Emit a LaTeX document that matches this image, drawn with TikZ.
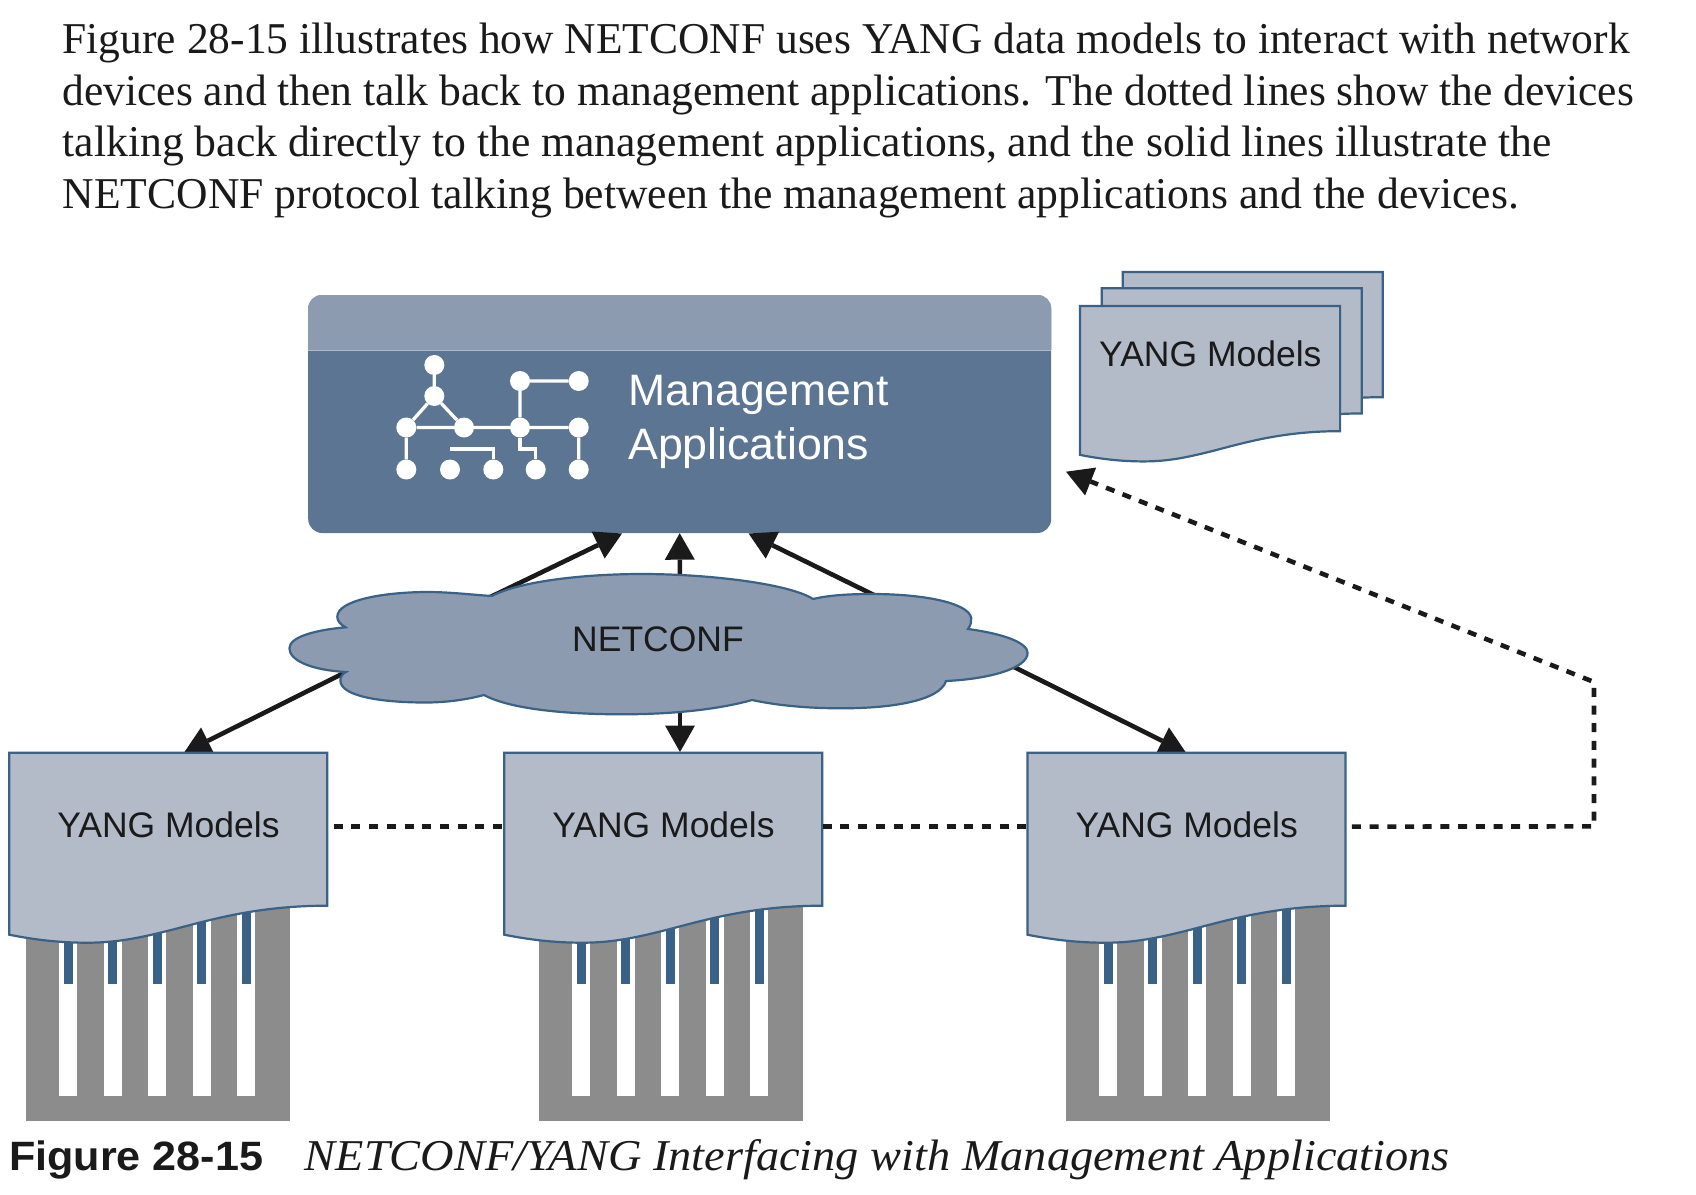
\documentclass[tikz,border=0pt]{standalone}
\usepackage{fontspec}
\setmainfont{Liberation Serif}
\newfontfamily\lsans{Liberation Sans}
\usetikzlibrary{arrows.meta}
\definecolor{ink}{HTML}{1A1A1A}
\definecolor{edgeblue}{HTML}{3A6287}
\definecolor{docfill}{HTML}{B3BBC9}
\definecolor{bandfill}{HTML}{8D9BB1}
\definecolor{darkfill}{HTML}{5C7592}
\definecolor{combgray}{HTML}{8C8C8C}
\tikzset{
  bigtip/.tip={Triangle[length=26.5pt,width=30pt,line width=0pt]},
  link/.style={draw=ink,line width=4.6pt,-{bigtip}},
  dashlink/.style={draw=ink,line width=4.6pt,dash pattern=on 9pt off 8.7pt},
  para/.style={anchor=base west,inner sep=0pt,text=ink,font=\fontsize{44}{44}\selectfont},
  sanslabel/.style={inner sep=0pt,text=ink,font=\lsans\fontsize{35.5}{40}\selectfont},
  docshape/.style={draw=edgeblue,fill=docfill,line width=2.2pt,line join=miter},
  docnode/.style={sanslabel,anchor=north west,minimum width=318pt,minimum height=147.4pt,text height=25.7pt,text depth=3.7pt},
  icondot/.style={circle,fill=white,inner sep=0pt,minimum size=20pt},
  iconline/.style={draw=white,line width=3.3pt},
  mgmtlabel/.style={anchor=base west,inner sep=0pt,text=white,font=\lsans\fontsize{44}{44}\selectfont},
}
\newcommand\waveshape[1]{%
  \path[docshape,#1] (0,0) -- (318,0) -- (318,153)
    .. controls (250,153) and (205,166) .. (163,177)
    .. controls (135,184) and (110,190) .. (78,190)
    .. controls (50,190) and (25,187) .. (0,182) -- cycle;}
\newcommand\combshape[1]{%
  \begin{scope}[shift={(#1,0)}]
    \fill[combgray] (0,900) rectangle (263.5,1120.8);
    \foreach \q in {33,77.6,122,166.7,211}{
      \fill[white] (\q,900) rectangle ++(18,196);
      \fill[edgeblue] (\q+4.5,900) rectangle ++(9,83.6);
    }
  \end{scope}}
\begin{document}
\begin{tikzpicture}[x=1pt,y=-1pt]
\useasboundingbox (0,0) rectangle (1696,1194);
\fill[white] (0,0) rectangle (1696,1194);

% intro text
\node[para] (t1) at (62.5,53.5) {\resizebox{1567pt}{\height}{Figure 28-15 illustrates how NETCONF uses YANG data models to interact with network}};
\node[para] (t2) at (62.5,105.1) {\resizebox{1571pt}{\height}{devices and then talk back to management applications. The dotted lines show the devices}};
\node[para] (t3) at (62.5,156.8) {\resizebox{1489pt}{\height}{talking back directly to the management applications, and the solid lines illustrate the}};
\node[para] (t4) at (62.5,208) {\resizebox{1456pt}{\height}{NETCONF protocol talking between the management applications and the devices.}};

% combs
\combshape{26}
\combshape{539}
\combshape{1066}

% management box
\node[fill=darkfill,rounded corners=14pt,minimum width=743pt,minimum height=238pt,inner sep=0pt] (mgmt) at (679.7,414) {};
\fill[bandfill] (308,350) -- (308,309) .. controls (308,301) and (314,295) .. (322,295) -- (1037.5,295) .. controls (1045.5,295) and (1051.3,301) .. (1051.3,309) -- (1051.3,350) -- cycle;
\draw[color=bandfill!70!white,line width=.8pt] (308,350) -- (1051.3,350);

% icon
\node[icondot] (ia) at (434.3,365) {};
\node[icondot] (ib) at (434.3,396) {};
\node[icondot] (ic) at (406.3,427.5) {};
\node[icondot] (id) at (464,427.5) {};
\node[icondot] (ie) at (520,427.5) {};
\node[icondot] (if) at (578.7,427.5) {};
\node[icondot] (ig) at (520,381) {};
\node[icondot] (ih) at (578.7,381) {};
\node[icondot] (ij) at (406.3,469.5) {};
\node[icondot] (ik) at (450,469.5) {};
\node[icondot] (il) at (493.3,469.5) {};
\node[icondot] (im) at (535.7,469.5) {};
\node[icondot] (in) at (578.7,469.5) {};
\coordinate (iw1) at (450,449);
\coordinate (iw2) at (493.3,449);
\coordinate (iw3) at (520,449);
\coordinate (iw4) at (535.7,449);
\path[iconline] (ia)--(ib) (ib)--(ic) (ib)--(id) (ic)--(id) (id)--(ie) (ie)--(if) (ie)--(ig) (ig)--(ih) (ic)--(ij) (if)--(in);
\path[iconline] (iw1)--(iw2)--(il);
\path[iconline] (ie)--(iw3)--(iw4)--(im);

\node[mgmtlabel] (m1) at (628.5,405) {\resizebox{260pt}{\height}{Management}};
\node[mgmtlabel] (m2) at (628,459) {\resizebox{241pt}{\height}{Applications}};

% connector ends
\coordinate (cUpL) at (480,602);
\coordinate (cUpM) at (680,600);
\coordinate (cUpR) at (880,598);
\coordinate (cDnL) at (360,665);
\coordinate (cDnM) at (680,690);
\coordinate (cDnR) at (1000,660);
\coordinate (tipUpL) at (622,533.5);
\coordinate (tipUpR) at (748.6,533.5);
\coordinate (tipDnL) at (184,752.7);
\coordinate (tipDnR) at (1186,752.7);
\coordinate (tipDnM) at (680,752);
\coordinate (bend) at (1594,682);
\coordinate (corner) at (1594,826.4);
\coordinate (tipModels) at (1066,471.7);

\draw[link] (cUpL) -- (tipUpL);
\draw[link] (cUpM) -- (mgmt.south);
\draw[link] (cUpR) -- (tipUpR);
\draw[link] (cDnL) -- (tipDnL);
\draw[link] (cDnM) -- (tipDnM);
\draw[link] (cDnR) -- (tipDnR);

% cloud
\path[draw=edgeblue,fill=bandfill,line width=2.2pt] (492,596)
  .. controls (520,581) and (585,574) .. (642,574)
  .. controls (710,574) and (790,584) .. (813,599)
  .. controls (830,595) and (850,594) .. (872,594)
  .. controls (930,594) and (975,605) .. (971,621)
  .. controls (971,625) and (969,627) .. (968,629)
  .. controls (1005,634) and (1027.6,643) .. (1027.6,653)
  .. controls (1027.6,668) and (990,679) .. (946,681)
  .. controls (940,700) and (895,708.3) .. (841.4,708.3)
  .. controls (805,708.3) and (775,705) .. (752,700)
  .. controls (720,709) and (675,714.3) .. (622,714.3)
  .. controls (565,714.3) and (510,709) .. (484,695)
  .. controls (465,700) and (445,702.5) .. (425.6,702.5)
  .. controls (380,702.5) and (340.4,696) .. (340.4,680.5)
  .. controls (340.4,677) and (342,674) .. (346,672)
  .. controls (310,670) and (289.4,660) .. (289.4,648.3)
  .. controls (289.4,637) and (315,630) .. (345.5,627.3)
  .. controls (340,624) and (337.3,621) .. (337.3,616.7)
  .. controls (337.3,600) and (385,592) .. (428,592)
  .. controls (450,592) and (475,595) .. (492,596) -- cycle;
\node[sanslabel,anchor=base west] (netconf) at (572,651) {NETCONF};

% bottom documents
\begin{scope}[shift={(9.3,752.7)}]
  \waveshape{}
  \node[docnode] (doc1) at (0,0) {YANG Models};
\end{scope}
\begin{scope}[shift={(504.3,752.7)}]
  \waveshape{}
  \node[docnode] (doc2) at (0,0) {YANG Models};
\end{scope}
\begin{scope}[shift={(1027.5,752.7)}]
  \waveshape{}
  \node[docnode] (doc3) at (0,0) {YANG Models};
\end{scope}

% top stack of documents
\begin{scope}[shift={(1122.7,272)},scale=.818] \waveshape{} \end{scope}
\begin{scope}[shift={(1101.7,288.3)},scale=.818] \waveshape{} \end{scope}
\begin{scope}[shift={(1080,306)},scale=.818] \waveshape{} \end{scope}
\node[sanslabel,anchor=base west] (topdoc) at (1099,366.7) {YANG Models};

% dashed connectors
\draw[dashlink,shorten <=6pt] (doc1.east) -- (doc2.west);
\draw[dashlink,shorten <=0pt] (doc2.east) -- (doc3.west);
\draw[dashlink,shorten <=6pt,-{bigtip}] (doc3.east) -- (corner) -- (bend) -- (tipModels);

% caption
\node[anchor=base west,inner sep=0pt,text=ink,font=\lsans\bfseries\fontsize{41}{41}\selectfont] (capA) at (9,1170.5) {\resizebox{254pt}{\height}{Figure 28-15}};
\node[anchor=base west,inner sep=0pt,text=ink,font=\itshape\fontsize{44}{44}\selectfont] (capB) at (304.6,1170.5) {\resizebox{1145pt}{\height}{NETCONF/YANG Interfacing with Management Applications}};
\end{tikzpicture}
\end{document}
